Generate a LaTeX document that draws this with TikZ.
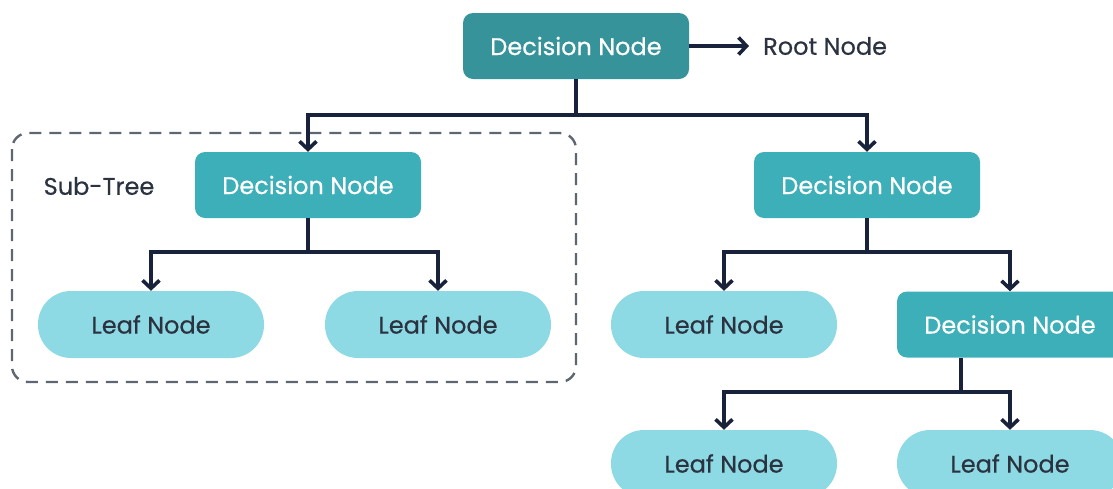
\documentclass[tikz,border=0pt]{standalone}
\usepackage{fontspec}
\setmainfont{Poppins}
\newfontfamily\medfont{Poppins}[FakeBold=0.5]
\usetikzlibrary{arrows.meta}
\definecolor{rootteal}{HTML}{36939A}
\definecolor{dteal}{HTML}{3DAFB8}
\definecolor{leafc}{HTML}{8EDAE4}
\definecolor{linec}{HTML}{18223A}
\definecolor{textdark}{HTML}{2B3240}
\definecolor{dashc}{HTML}{5F6571}
\begin{document}
\begin{tikzpicture}[x=1pt,y=-1pt,
  dec/.style={rectangle,rounded corners=10pt,minimum width=226pt,minimum height=66pt,inner sep=0pt,text=white,font=\medfont\fontsize{24}{28}\selectfont},
  leaf/.style={rectangle,rounded corners=33pt,fill=leafc,minimum width=226pt,minimum height=67pt,inner sep=0pt,text=textdark,font=\medfont\fontsize{24}{28}\selectfont},
  conn/.style={draw=linec,line width=3.6pt},
  arr/.style={conn,-{Straight Barb[length=8pt,width=17pt,line width=3.6pt]}},
  lbl/.style={text=textdark,inner sep=0pt,font=\medfont\fontsize{24}{28}\selectfont}]
\useasboundingbox (0,0) rectangle (1113,488);
\clip (0,0) rectangle (1113,488);
% dashed sub-tree frame
\draw[dashc,line width=2.4pt,dash pattern=on 12pt off 8pt,rounded corners=16pt] (12,133) rectangle (576,382);
% nodes
\node[dec,fill=rootteal] (r) at (576,46) {Decision Node};
\node[lbl,anchor=west] (rl) at (763,46) {Root Node};
\node[dec,fill=dteal] (dl) at (308,185) {Decision Node};
\node[dec,fill=dteal] (dr) at (867,185) {Decision Node};
\node[lbl] (st) at (99,186) {Sub-Tree};
\node[leaf] (ll) at (151,324.5) {Leaf Node};
\node[leaf] (lr) at (438,324.5) {Leaf Node};
\node[leaf] (rlf) at (724,324.5) {Leaf Node};
\node[dec,fill=dteal] (rr) at (1010,324.5) {Decision Node};
\node[leaf] (bl) at (724,463.5) {Leaf Node};
\node[leaf] (br) at (1010,463.5) {Leaf Node};
% junction coordinates
\coordinate (j1) at (576,115);
\coordinate (j2) at (308,252);
\coordinate (j3) at (867,252);
\coordinate (j4) at (961,392);
% connectors
\draw[arr,shorten >=14pt] (r.east) -- (rl.west);
\draw[conn] (r.south) -- (j1);
\draw[arr] (j1) -| (dl.north);
\draw[arr] (j1) -| (dr.north);
\draw[conn] (dl.south) -- (j2);
\draw[arr] (j2) -| (ll.north);
\draw[arr] (j2) -| (lr.north);
\draw[conn] (dr.south) -- (j3);
\draw[arr] (j3) -| (rlf.north);
\draw[arr] (j3) -| (rr.north);
\draw[conn] (rr.south -| j4) -- (j4);
\draw[arr] (j4) -| (bl.north);
\draw[arr] (j4) -| (br.north);
\end{tikzpicture}
\end{document}
